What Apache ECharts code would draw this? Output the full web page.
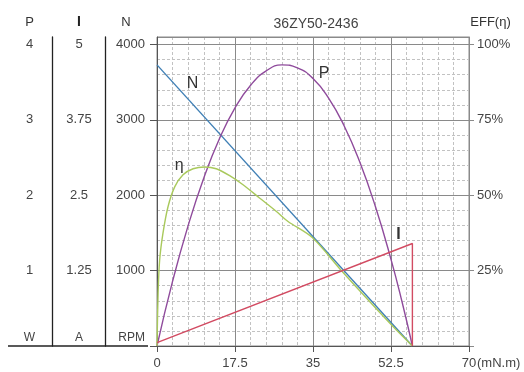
<!DOCTYPE html>
<html>
<head>
<meta charset="utf-8">
<script src="https://cdn.jsdelivr.net/npm/echarts@6/dist/echarts.min.js"></script>
<style>html,body{margin:0;padding:0;background:#fff;}#c{width:524px;height:372px;}</style>
</head>
<body>
<div id="c"></div>
<script>
// ---- data ----
const titleText = '36ZY50-2436';
// speed N (RPM) vs torque (mN.m)
const nTorque = [0, 57.3];
const nSpeed = [3730, 0];
// current I (A) vs torque
const iTorque = [0, 57.3, 57.3];
const iCurrent = [0.055, 1.70, 0];
// output power P (W) vs torque
const pTorque = [0, 3.5, 7, 10.5, 14, 17.5, 21, 24.5, 28, 31.5, 35, 38.5, 42, 45.5, 49, 52.5, 55, 57.3];
const pPower  = [0, 0.86, 1.60, 2.23, 2.75, 3.16, 3.46, 3.65, 3.73, 3.69, 3.55, 3.29, 2.92, 2.44, 1.85, 1.15, 0.58, 0];
// efficiency (%) vs torque
const effTorque = [0, 0.25, 0.6, 1.35, 2.47, 3.97, 5.84, 8.09, 10.7, 13.3, 16.3, 19.3, 23.0, 26.8, 29.4, 34.9, 41.6, 52.2, 57.3];
const effValue  = [0, 17.6, 28.6, 37.5, 46.2, 52.8, 56.8, 58.8, 59.4, 58.8, 56.5, 53.5, 49.1, 44.6, 41.3, 35.9, 24.6, 7.6, 0];
// axis ranges / ticks
const xRange = [0, 70], xStep = 17.5, xMinorStep = 3.5;
const nRange = [0, 4100], nStep = 1000, nMinorStep = 200, nTop = 4000;
const iRange = [0, 5.125], iStep = 1.25, iTop = 5;
const pRange = [0, 4.1], pStep = 1, pTop = 4;
const eRange = [0, 102.5], eStep = 25, eTop = 100;
const unitLabels = {p: 'W', i: 'A', n: 'RPM'};
// curve name labels (data coordinates)
const nLabelAt = [7.95, 3476];
const pLabelAt = [37.5, 3.62];
const eLabelAt = [5.0, 59.8];
const iLabelAt = [54.2, 1.85];

const zip = (a, b) => a.map((v, k) => [v, b[k]]);
const FONT = 'Liberation Sans';
const LBL = '#444';
const MAJ = '#8a8a8a';
const MIN = '#c2c2c2';

function unitFmt(top, unit) {
  return function (v) {
    if (v === 0) return '{u|' + unit + '}';
    if (v > top + 1e-9) return '';
    return String(v);
  };
}
const unitRich = {u: {fontSize: 12, color: LBL, fontFamily: FONT, padding: [0, 0, 16, 0]}};

function nameLabel(text, at, bold) {
  return {
    symbol: 'circle', symbolSize: 0, silent: true,
    label: {show: true, position: 'inside', formatter: text, color: '#333',
            fontSize: 16, fontWeight: bold ? 'bold' : 'normal', fontFamily: FONT},
    data: [{coord: at}]
  };
}

const chart = echarts.init(document.getElementById('c'), null, {renderer: 'canvas'});
chart.setOption({
  animation: false,
  textStyle: {fontFamily: FONT},
  title: {text: titleText, left: 311, top: 12, textAlign: 'center',
          textStyle: {fontSize: 14, fontWeight: 'normal', color: LBL, fontFamily: FONT}},
  grid: {left: 157, right: 55, top: 37, bottom: 26, show: true, borderColor: MAJ, borderWidth: 1,
         containLabel: false, outerBoundsMode: 'none'},
  graphic: [{type: 'line', shape: {x1: 8, y1: 346, x2: 148, y2: 346},
             style: {stroke: '#222', lineWidth: 1.3}}],
  xAxis: [
    {type: 'value', min: xRange[0], max: xRange[1], interval: xStep, z: 1,
     name: '(mN.m)', nameLocation: 'end', nameGap: 8, nameMoveOverlap: false,
     nameTextStyle: {fontSize: 13, color: LBL, verticalAlign: 'top', padding: [11, 0, 0, 0]},
     axisLine: {show: true, onZero: false, lineStyle: {color: '#555', width: 1}},
     axisTick: {show: true, length: 6, lineStyle: {color: '#555'}},
     axisLabel: {margin: 11, fontSize: 13, color: LBL},
     splitLine: {show: true, lineStyle: {color: MAJ, width: 1}}},
    {type: 'value', min: xRange[0], max: xRange[1], interval: xMinorStep, z: 0, position: 'top',
     axisLine: {show: false, onZero: false}, axisTick: {show: false}, axisLabel: {show: false},
     splitLine: {show: true, lineStyle: {color: MIN, width: 1, type: [3, 2]}}}
  ],
  yAxis: [
    {type: 'value', position: 'left', offset: 0, min: nRange[0], max: nRange[1], interval: nStep, z: 1,
     name: 'N', nameLocation: 'end', nameGap: 8,
     nameTextStyle: {fontSize: 13, color: '#333', padding: [0, 62, 0, 0]},
     axisLine: {show: true, onZero: false, lineStyle: {color: '#555', width: 1}},
     axisTick: {show: true, length: 7, lineStyle: {color: '#555'}},
     axisLabel: {margin: 12, fontSize: 13, color: LBL, showMaxLabel: false,
                 formatter: unitFmt(nTop, unitLabels.n), rich: unitRich},
     splitLine: {show: true, lineStyle: {color: MAJ, width: 1}}},
    {type: 'value', position: 'left', offset: 52, min: iRange[0], max: iRange[1], interval: iStep,
     name: 'I', nameLocation: 'end', nameGap: 8,
     nameTextStyle: {fontSize: 14, color: '#222', fontWeight: 'bold', padding: [0, 52, 0, 0]},
     axisLine: {show: true, onZero: false, lineStyle: {color: '#222', width: 1.3}},
     axisTick: {show: false},
     axisLabel: {margin: 26, align: 'center', fontSize: 13, color: LBL, showMaxLabel: false,
                 formatter: unitFmt(iTop, unitLabels.i), rich: unitRich},
     splitLine: {show: false}},
    {type: 'value', position: 'left', offset: 105, min: pRange[0], max: pRange[1], interval: pStep,
     name: 'P', nameLocation: 'end', nameGap: 8,
     nameTextStyle: {fontSize: 13, color: '#333', padding: [0, 45, 0, 0]},
     axisLine: {show: true, onZero: false, lineStyle: {color: '#222', width: 1.3}},
     axisTick: {show: false},
     axisLabel: {margin: 22.5, align: 'center', fontSize: 13, color: LBL, showMaxLabel: false,
                 formatter: unitFmt(pTop, unitLabels.p), rich: unitRich},
     splitLine: {show: false}},
    {type: 'value', position: 'right', offset: 0, min: eRange[0], max: eRange[1], interval: eStep,
     name: 'EFF(η)', nameLocation: 'end', nameGap: 8,
     nameTextStyle: {fontSize: 13, color: '#333', padding: [0, 0, 0, 43]},
     axisLine: {show: true, onZero: false, lineStyle: {color: MAJ, width: 1}},
     axisTick: {show: true, length: 5, lineStyle: {color: MAJ}},
     axisLabel: {margin: 8, fontSize: 13, color: LBL, showMaxLabel: false,
                 formatter: function (v) { return (v === 0 || v > eTop) ? '' : v + '%'; }},
     splitLine: {show: false}},
    {type: 'value', position: 'right', offset: 0, min: nRange[0], max: nRange[1], interval: nMinorStep, z: 0,
     axisLine: {show: false, onZero: false}, axisTick: {show: false}, axisLabel: {show: false},
     splitLine: {show: true, lineStyle: {color: MIN, width: 1, type: [3, 2]}}}
  ],
  series: [
    {type: 'line', name: 'N', xAxisIndex: 0, yAxisIndex: 0, data: zip(nTorque, nSpeed),
     showSymbol: false, lineStyle: {color: '#3f7fb5', width: 1.4}, itemStyle: {color: '#3f7fb5'},
     markPoint: nameLabel('N', nLabelAt)},
    {type: 'line', name: 'P', xAxisIndex: 0, yAxisIndex: 2, data: zip(pTorque, pPower), smooth: true,
     showSymbol: false, lineStyle: {color: '#8f4b9c', width: 1.4}, itemStyle: {color: '#8f4b9c'},
     markPoint: nameLabel('P', pLabelAt)},
    {type: 'line', name: 'η', xAxisIndex: 0, yAxisIndex: 3, data: zip(effTorque, effValue), smooth: 0.3,
     showSymbol: false, lineStyle: {color: '#a9c95c', width: 1.4}, itemStyle: {color: '#a9c95c'},
     markPoint: nameLabel('η', eLabelAt)},
    {type: 'line', name: 'I', xAxisIndex: 0, yAxisIndex: 1, data: zip(iTorque, iCurrent),
     showSymbol: false, lineStyle: {color: '#d24b62', width: 1.4}, itemStyle: {color: '#d24b62'},
     markPoint: nameLabel('I', iLabelAt, true)}
  ]
});
</script>
</body>
</html>
